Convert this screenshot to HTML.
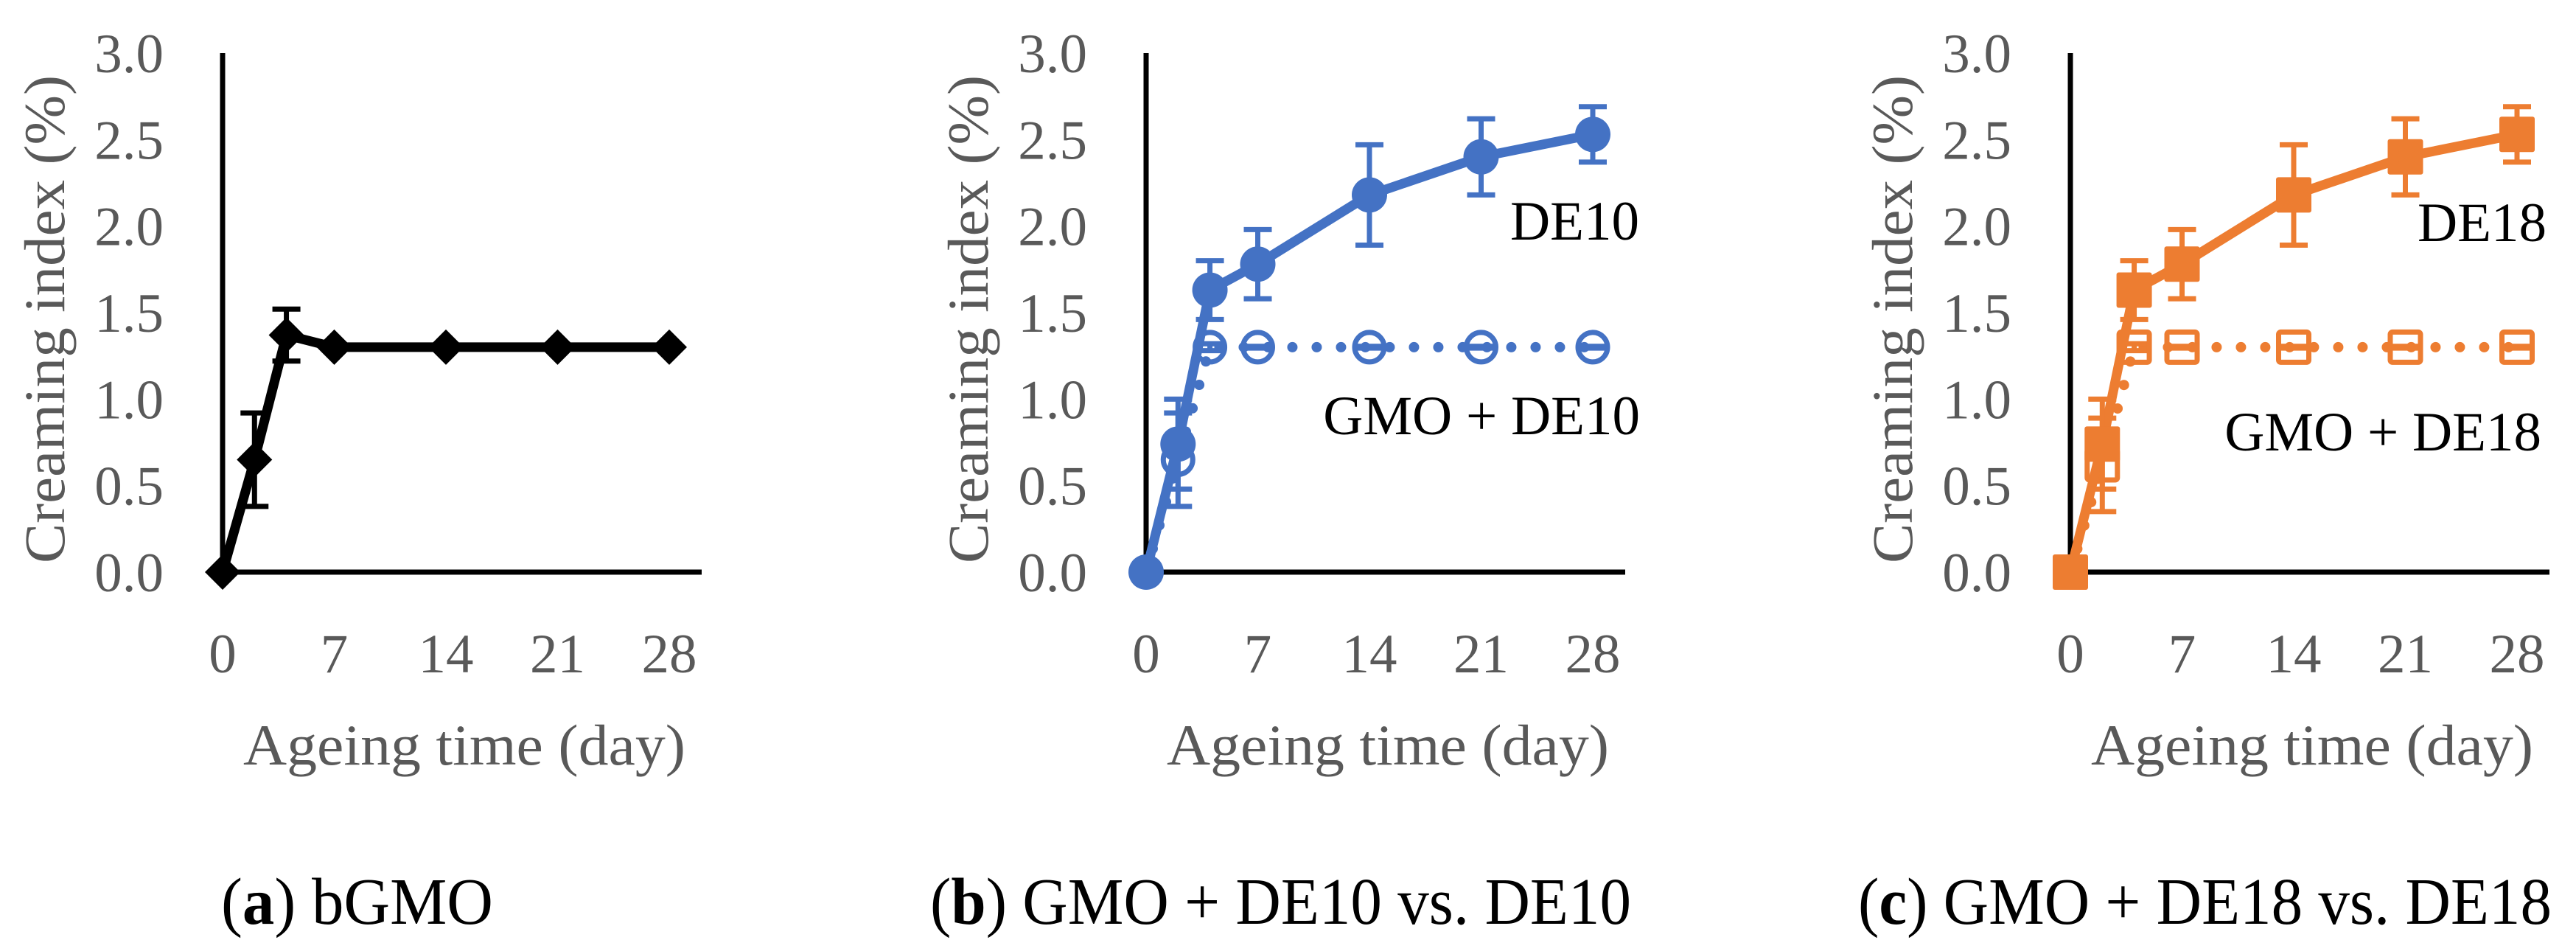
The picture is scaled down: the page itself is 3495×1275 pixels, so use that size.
<!DOCTYPE html>
<html><head><meta charset="utf-8"><style>
html,body{margin:0;padding:0;background:#fff;}
svg{display:block;}
text{font-family:"Liberation Serif",serif;}
</style></head><body>
<svg id="fig" width="3495" height="1275" viewBox="0 0 3495 1275" xmlns="http://www.w3.org/2000/svg"></svg>
<script>
const days = [0, 2, 4, 7, 14, 21, 28];
const xTicks = [0, 7, 14, 21, 28];
const yTicks = [0, 0.5, 1.0, 1.5, 2.0, 2.5, 3.0];
const yTickLabels = ["0.0", "0.5", "1.0", "1.5", "2.0", "2.5", "3.0"];
const bGMO = [0, 0.65, 1.37, 1.30, 1.30, 1.30, 1.30];
const bGMOErr = [0, 0.27, 0.15, 0.005, 0.005, 0.005, 0.005];
const de10 = [0, 0.74, 1.63, 1.78, 2.18, 2.40, 2.53];
const de10Err = [0, 0.26, 0.17, 0.20, 0.29, 0.22, 0.16];
const gmoDe10 = [0, 0.65, 1.30, 1.30, 1.30, 1.30, 1.30];
const gmoDe10Err = [0, 0.27, 0.02, 0.005, 0.005, 0.005, 0.005];
const de18 = [0, 0.74, 1.63, 1.78, 2.18, 2.40, 2.53];
const de18Err = [0, 0.26, 0.17, 0.20, 0.29, 0.22, 0.16];
const gmoDe18 = [0, 0.62, 1.30, 1.30, 1.30, 1.30, 1.30];
const gmoDe18Err = [0, 0.27, 0.02, 0.005, 0.005, 0.005, 0.005];

const NS = "http://www.w3.org/2000/svg";
const svg = document.getElementById('fig');
function mk(tag, attrs, parent) {
  const e = document.createElementNS(NS, tag);
  for (const k in attrs) e.setAttribute(k, attrs[k]);
  (parent || svg).appendChild(e);
  return e;
}
const BLUE = "#4472C4", ORANGE = "#ED7D31";
const Y0 = 776, Y3 = 72;
function yS(v) { return Y0 - (Y0 - Y3) * v / 3; }

function panel(ax, name, caption, capBold, series) {
  const g = mk('g', {});
  
  
  const xS = d => ax + d * (606 / 28);
  yTicks.forEach((t, i) => {
    const tx = mk('text', {x: ax - 80, y: yS(t) + 26, 'font-size': 75, fill: '#595959', 'text-anchor': 'end'}, g);
    
    
    tx.textContent = yTickLabels[i];
  });
  xTicks.forEach(t => {
    const tx = mk('text', {x: xS(t), y: 912, 'font-size': 75, fill: '#595959', 'text-anchor': 'middle'}, g);
    
    
    tx.textContent = String(t);
  });
  const yt = mk('text', {x: 0, y: 0, 'font-size': 78, fill: '#595959', 'text-anchor': 'middle', textLength: 662, lengthAdjust: 'spacingAndGlyphs', transform: `translate(${ax - 215},433) rotate(-90)`}, g);
  
  
  yt.textContent = 'Creaming index (%)';
  const xt = mk('text', {x: ax + 328, y: 1037, 'font-size': 78, fill: '#595959', 'text-anchor': 'middle', textLength: 600, lengthAdjust: 'spacingAndGlyphs'}, g);
  
  
  xt.textContent = 'Ageing time (day)';
  const ya = mk('line', {x1: ax, y1: Y3, x2: ax, y2: Y0 + 3, stroke: '#000', 'stroke-width': 7}, g);
  
  
  const xa = mk('line', {x1: ax - 3, y1: Y0, x2: ax + 650, y2: Y0, stroke: '#000', 'stroke-width': 7}, g);
  
  
  const cp = mk('text', {x: caption.x, y: 1253, 'font-size': 90, fill: '#000', textLength: caption.len, lengthAdjust: 'spacingAndGlyphs'}, g);
  
  
  const t1 = mk('tspan', {}, cp); t1.textContent = '(';
  const t2 = mk('tspan', {'font-weight': 'bold'}, cp); t2.textContent = capBold;
  const t3 = mk('tspan', {}, cp); t3.textContent = ') ' + caption.text;
  series.forEach(s => {
    const sg = mk('g', {}, g);
    
    
    const pts = days.map((d, i) => xS(d) + ',' + yS(s.vals[i])).join(' ');
    const ln = mk('polyline', {points: pts, fill: 'none', stroke: s.color, 'stroke-width': s.dotted ? 14 : 13, 'stroke-linejoin': 'round', 'stroke-linecap': 'round', 'stroke-dasharray': s.dotted ? '0 33' : 'none'}, sg);
    
    
    days.forEach((d, i) => {
      const cx = xS(d), cy = yS(s.vals[i]), e = s.err[i];
      if (i > 0) {
        const eb = mk('path', {d: `M${cx},${yS(s.vals[i] - e)}V${yS(s.vals[i] + e)}M${cx - 19},${yS(s.vals[i] - e)}H${cx + 19}M${cx - 19},${yS(s.vals[i] + e)}H${cx + 19}`, stroke: s.color, 'stroke-width': 7, fill: 'none'}, sg);
        
        
      }
      let m;
      const fill = s.open ? 'none' : s.color;
      if (s.shape === 'diamond') {
        m = mk('path', {d: `M${cx},${cy - 24}L${cx + 24},${cy}L${cx},${cy + 24}L${cx - 24},${cy}Z`, fill: s.color}, sg);
      } else if (s.shape === 'circle') {
        m = mk('circle', {cx: cx, cy: cy, r: s.open ? 20 : 24, fill: fill, stroke: s.color, 'stroke-width': s.open ? 7 : 0}, sg);
      } else {
        const h = s.open ? 20.5 : 24;
        m = mk('rect', {x: cx - h, y: cy - h, width: 2 * h, height: 2 * h, rx: 3, fill: fill, stroke: s.color, 'stroke-width': s.open ? 7 : 0}, sg);
      }
      
      
    });
  });
}
function label(x, y, txt, name) {
  const t = mk('text', {x: x, y: y, 'font-size': 75, fill: '#000', 'text-anchor': 'end'});
  
  
  t.textContent = txt;
}

panel(302, 'panel-a', {text: 'bGMO', x: 300, len: 369}, 'a',
  [{name: 'bgmo-series', vals: bGMO, err: bGMOErr, color: '#000', shape: 'diamond'}]);
panel(1555, 'panel-b', {text: 'GMO + DE10 vs. DE10', x: 1262, len: 951}, 'b',
  [{name: 'gmo-de10-series', vals: gmoDe10, err: gmoDe10Err, color: BLUE, shape: 'circle', open: true, dotted: true},
   {name: 'de10-series', vals: de10, err: de10Err, color: BLUE, shape: 'circle'}]);
panel(2809, 'panel-c', {text: 'GMO + DE18 vs. DE18', x: 2521, len: 941}, 'c',
  [{name: 'gmo-de18-series', vals: gmoDe18, err: gmoDe18Err, color: ORANGE, shape: 'square', open: true, dotted: true},
   {name: 'de18-series', vals: de18, err: de18Err, color: ORANGE, shape: 'square'}]);
label(2224, 325, 'DE10', 'de10-label');
label(2225, 589, 'GMO + DE10', 'gmo-de10-label');
label(3455, 327, 'DE18', 'de18-label');
label(3448, 611, 'GMO + DE18', 'gmo-de18-label');
</script>
</body></html>
